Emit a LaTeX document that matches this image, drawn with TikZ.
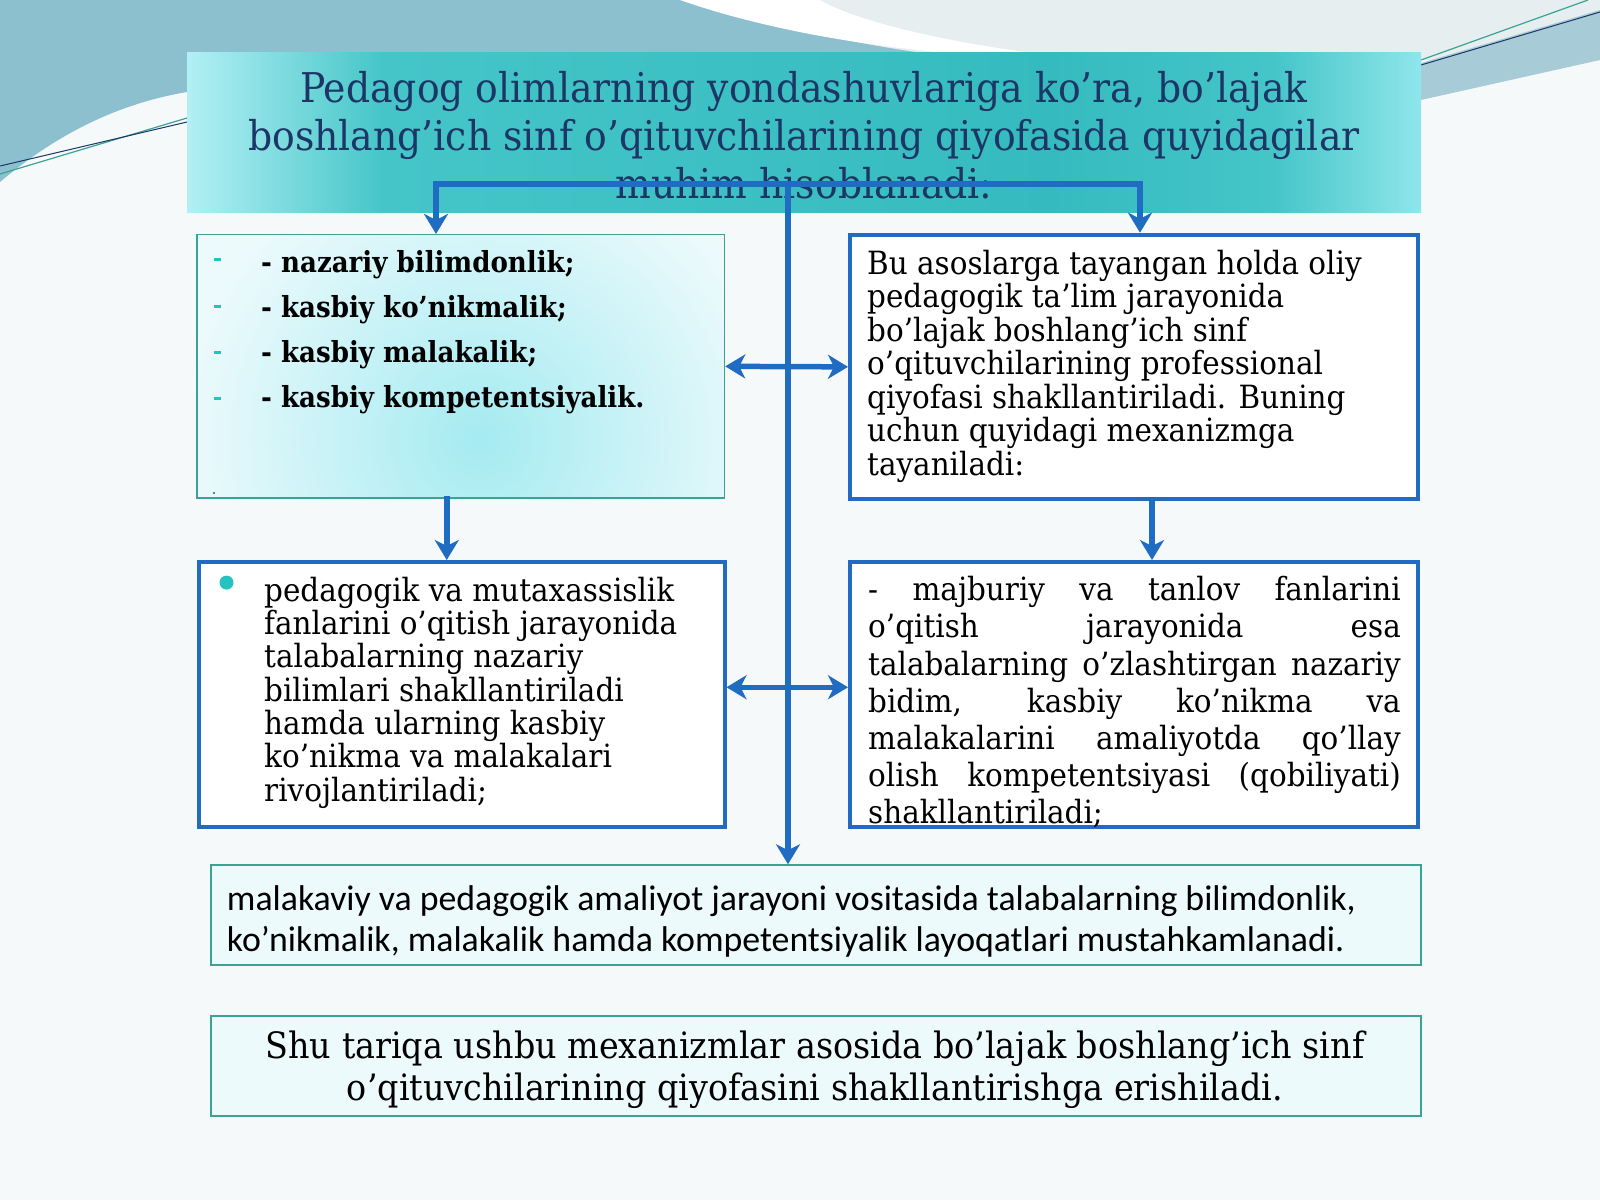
\documentclass[tikz,border=0pt]{standalone}
\usepackage{fontspec}
\setmainfont{DejaVu Serif}[FakeStretch=0.92]
\newfontfamily\heavyserif{DejaVu Serif}[FakeStretch=0.9]
\newfontfamily\calibri{Carlito}
\usetikzlibrary{arrows.meta}

\definecolor{paper}{HTML}{F6F9FA}
\definecolor{mist}{HTML}{E6EEF0}
\definecolor{lagoon}{HTML}{8DC0CF}
\definecolor{band}{HTML}{A7CCD7}
\definecolor{navy}{HTML}{1C3766}
\definecolor{wire}{HTML}{1F6CC2}
\definecolor{seam}{HTML}{3AA394}
\definecolor{aqua}{HTML}{25C3BF}
\definecolor{frost}{HTML}{EDFAFC}
\definecolor{ice}{HTML}{A4EBF1}
\definecolor{pool}{HTML}{B2EEF3}
\definecolor{glow}{HTML}{B2F0F4}
\definecolor{sea}{HTML}{45C5C8}
\definecolor{deep}{HTML}{35BBBF}
\definecolor{shore}{HTML}{8FE6EB}

\pgfdeclarehorizontalshading{titleshade}{100bp}{color(0bp)=(glow); color(25bp)=(glow); color(33bp)=(sea); color(60bp)=(deep); color(69bp)=(sea); color(75bp)=(shore); color(100bp)=(shore)}

\tikzset{
	panel/.style={draw=wire, line width=4pt, fill=white, inner sep=0pt},
	glass/.style={draw=seam, line width=1.5pt, inner sep=0pt},
	words/.style={inner sep=0pt, anchor=north west, align=left},
	link/.style={draw=wire, line width=5.5pt, line cap=rect},
	tip/.style={link, -{Stealth[length=20pt, width=24pt, inset=6pt]}},
	twin/.style={link, {Stealth[length=20pt, width=24pt, inset=6pt]}-{Stealth[length=20pt, width=24pt, inset=6pt]}},
}

\begin{document}
\begin{tikzpicture}[x=1pt, y=-1pt]
	\useasboundingbox (0,0) rectangle (1600,1200);
	
	% backdrop
	\fill[paper] (0,0) rectangle (1600,1200);
	\fill[mist] (0,0) rectangle (1600,60);
	\fill[lagoon] (0,0) -- (700,0) .. controls (760,22) and (840,42) .. (930,54) -- (930,120) -- (187,120) -- (187,92) .. controls (110,105) and (50,140) .. (0,182) -- cycle;
	\fill[white] (680,0) .. controls (760,28) and (860,46) .. (960,54) -- (1040,54) .. controls (930,40) and (850,18) .. (820,0) -- cycle;
	\fill[band] (1421,63) -- (1600,10) -- (1600,60) -- (1421,100) -- cycle;
	\draw[seam, line width=1.2pt] (1421,60) -- (1588,0);
	\draw[navy, line width=1pt] (1421,65) -- (1600,12);
	\draw[seam, line width=1.2pt] (0,174) -- (187,118);
	\draw[navy, line width=1pt] (0,166) -- (187,122);
	
	% title
	\node[inner sep=0pt, minimum width=1234pt, minimum height=160pt, shading=titleshade] (title) at (804,132) {};
	\node[words, anchor=north, align=center, text=navy, font={\fontsize{41}{48}\selectfont}] (heading) at (804,70.8) {Pedagog olimlarning yondashuvlariga ko’ra, bo’lajak\\ boshlang’ich sinf o’qituvchilarining qiyofasida quyidagilar\\ muhim hisoblanadi:};
	
	% glow behind the first list
	\begin{scope}
		\clip (197,234.7) rectangle (724.5,498);
		\fill[frost] (197,234.7) rectangle (724.5,498);
		\shade[inner color=ice, outer color=frost] (480,440) circle (300pt);
	\end{scope}
	
	% boxes
	\node[glass, minimum width=527.5pt, minimum height=263.3pt] (know) at (460.75,366.35) {};
	\node[panel, minimum width=568pt, minimum height=264.3pt] (base) at (1134,366.85) {};
	\node[panel, minimum width=525.5pt, minimum height=264.5pt] (teach) at (461.75,694.25) {};
	\node[panel, minimum width=568pt, minimum height=264.5pt] (elect) at (1134,694.25) {};
	\node[glass, left color=frost, middle color=pool, right color=frost, minimum width=1210pt, minimum height=100pt] (practice) at (816,915) {};
	\node[glass, left color=frost, middle color=pool, right color=frost, minimum width=1210pt, minimum height=100pt] (result) at (816,1066) {};
	
	% texts
	\foreach \y in {258,305,351,397} {
		\fill[aqua] (214,\y) rectangle ++(7,2.5);
	}
	\fill[black!70] (214,493) circle (1.2pt);
	\node[words, font={\heavyserif\bfseries\fontsize{29}{45}\selectfont}] (knowlist) at (261,250) {- nazariy bilimdonlik;\\- kasbiy ko’nikmalik;\\- kasbiy malakalik;\\- kasbiy kompetentsiyalik.};
	\node[words, font={\fontsize{32}{33.5}\selectfont}] (basetext) at (867,249.7) {Bu asoslarga tayangan holda oliy\\ pedagogik ta’lim jarayonida\\ bo’lajak boshlang’ich sinf\\ o’qituvchilarining professional\\ qiyofasi shakllantiriladi. Buning\\ uchun quyidagi mexanizmga\\ tayaniladi:};
	\fill[aqua] (226.5,582.6) circle (7pt);
	\node[words, font={\fontsize{32}{33.3}\selectfont}] (teachtext) at (264,576.7) {pedagogik va mutaxassislik\\ fanlarini o’qitish jarayonida\\ talabalarning nazariy\\ bilimlari shakllantiriladi\\ hamda ularning kasbiy\\ ko’nikma va malakalari\\ rivojlantiriladi;};
	\node[words, align=justify, text width=532.6pt, font={\fontsize{32}{37.2}\selectfont}] (electtext) at (868,576.2) {- majburiy va tanlov fanlarini\linebreak o’qitish jarayonida esa\linebreak talabalarning o’zlashtirgan nazariy\linebreak bidim, kasbiy ko’nikma va\linebreak malakalarini amaliyotda qo’llay\linebreak olish kompetentsiyasi (qobiliyati)\linebreak shakllantiriladi;};
	\node[words, font={\calibri\fontsize{35.8}{41}\selectfont}] (practicetext) at (226.7,885) {malakaviy va pedagogik amaliyot jarayoni vositasida talabalarning bilimdonlik,\\ ko’nikmalik, malakalik hamda kompetentsiyalik layoqatlari mustahkamlanadi.};
	\node[words, anchor=north, align=center, font={\fontsize{36.3}{42}\selectfont}] (resulttext) at (815,1030.4) {Shu tariqa ushbu mexanizmlar asosida bo’lajak boshlang’ich sinf\\ o’qituvchilarining qiyofasini shakllantirishga erishiladi.};
	
	% connectors
	\coordinate (hub) at (788,184);
	\coordinate (knowin) at (436,184);
	\coordinate (basein) at (1140,184);
	\coordinate (knowout) at ([xshift=-14pt]know.south);
	\coordinate (baseout) at ([xshift=18pt]base.south);
	\draw[link] (knowin) -- (basein);
	\draw[tip] (knowin) -- (knowin |- know.north);
	\draw[tip] (basein) -- (basein |- base.north);
	\draw[tip] (hub) -- (hub |- practice.north);
	\draw[twin] (know.east) -- (base.west);
	\draw[twin] ([yshift=7pt]teach.east) -- ([yshift=7pt]elect.west);
	\draw[tip] (knowout) -- (knowout |- teach.north);
	\draw[tip] (baseout) -- (baseout |- elect.north);
\end{tikzpicture}
\end{document}
